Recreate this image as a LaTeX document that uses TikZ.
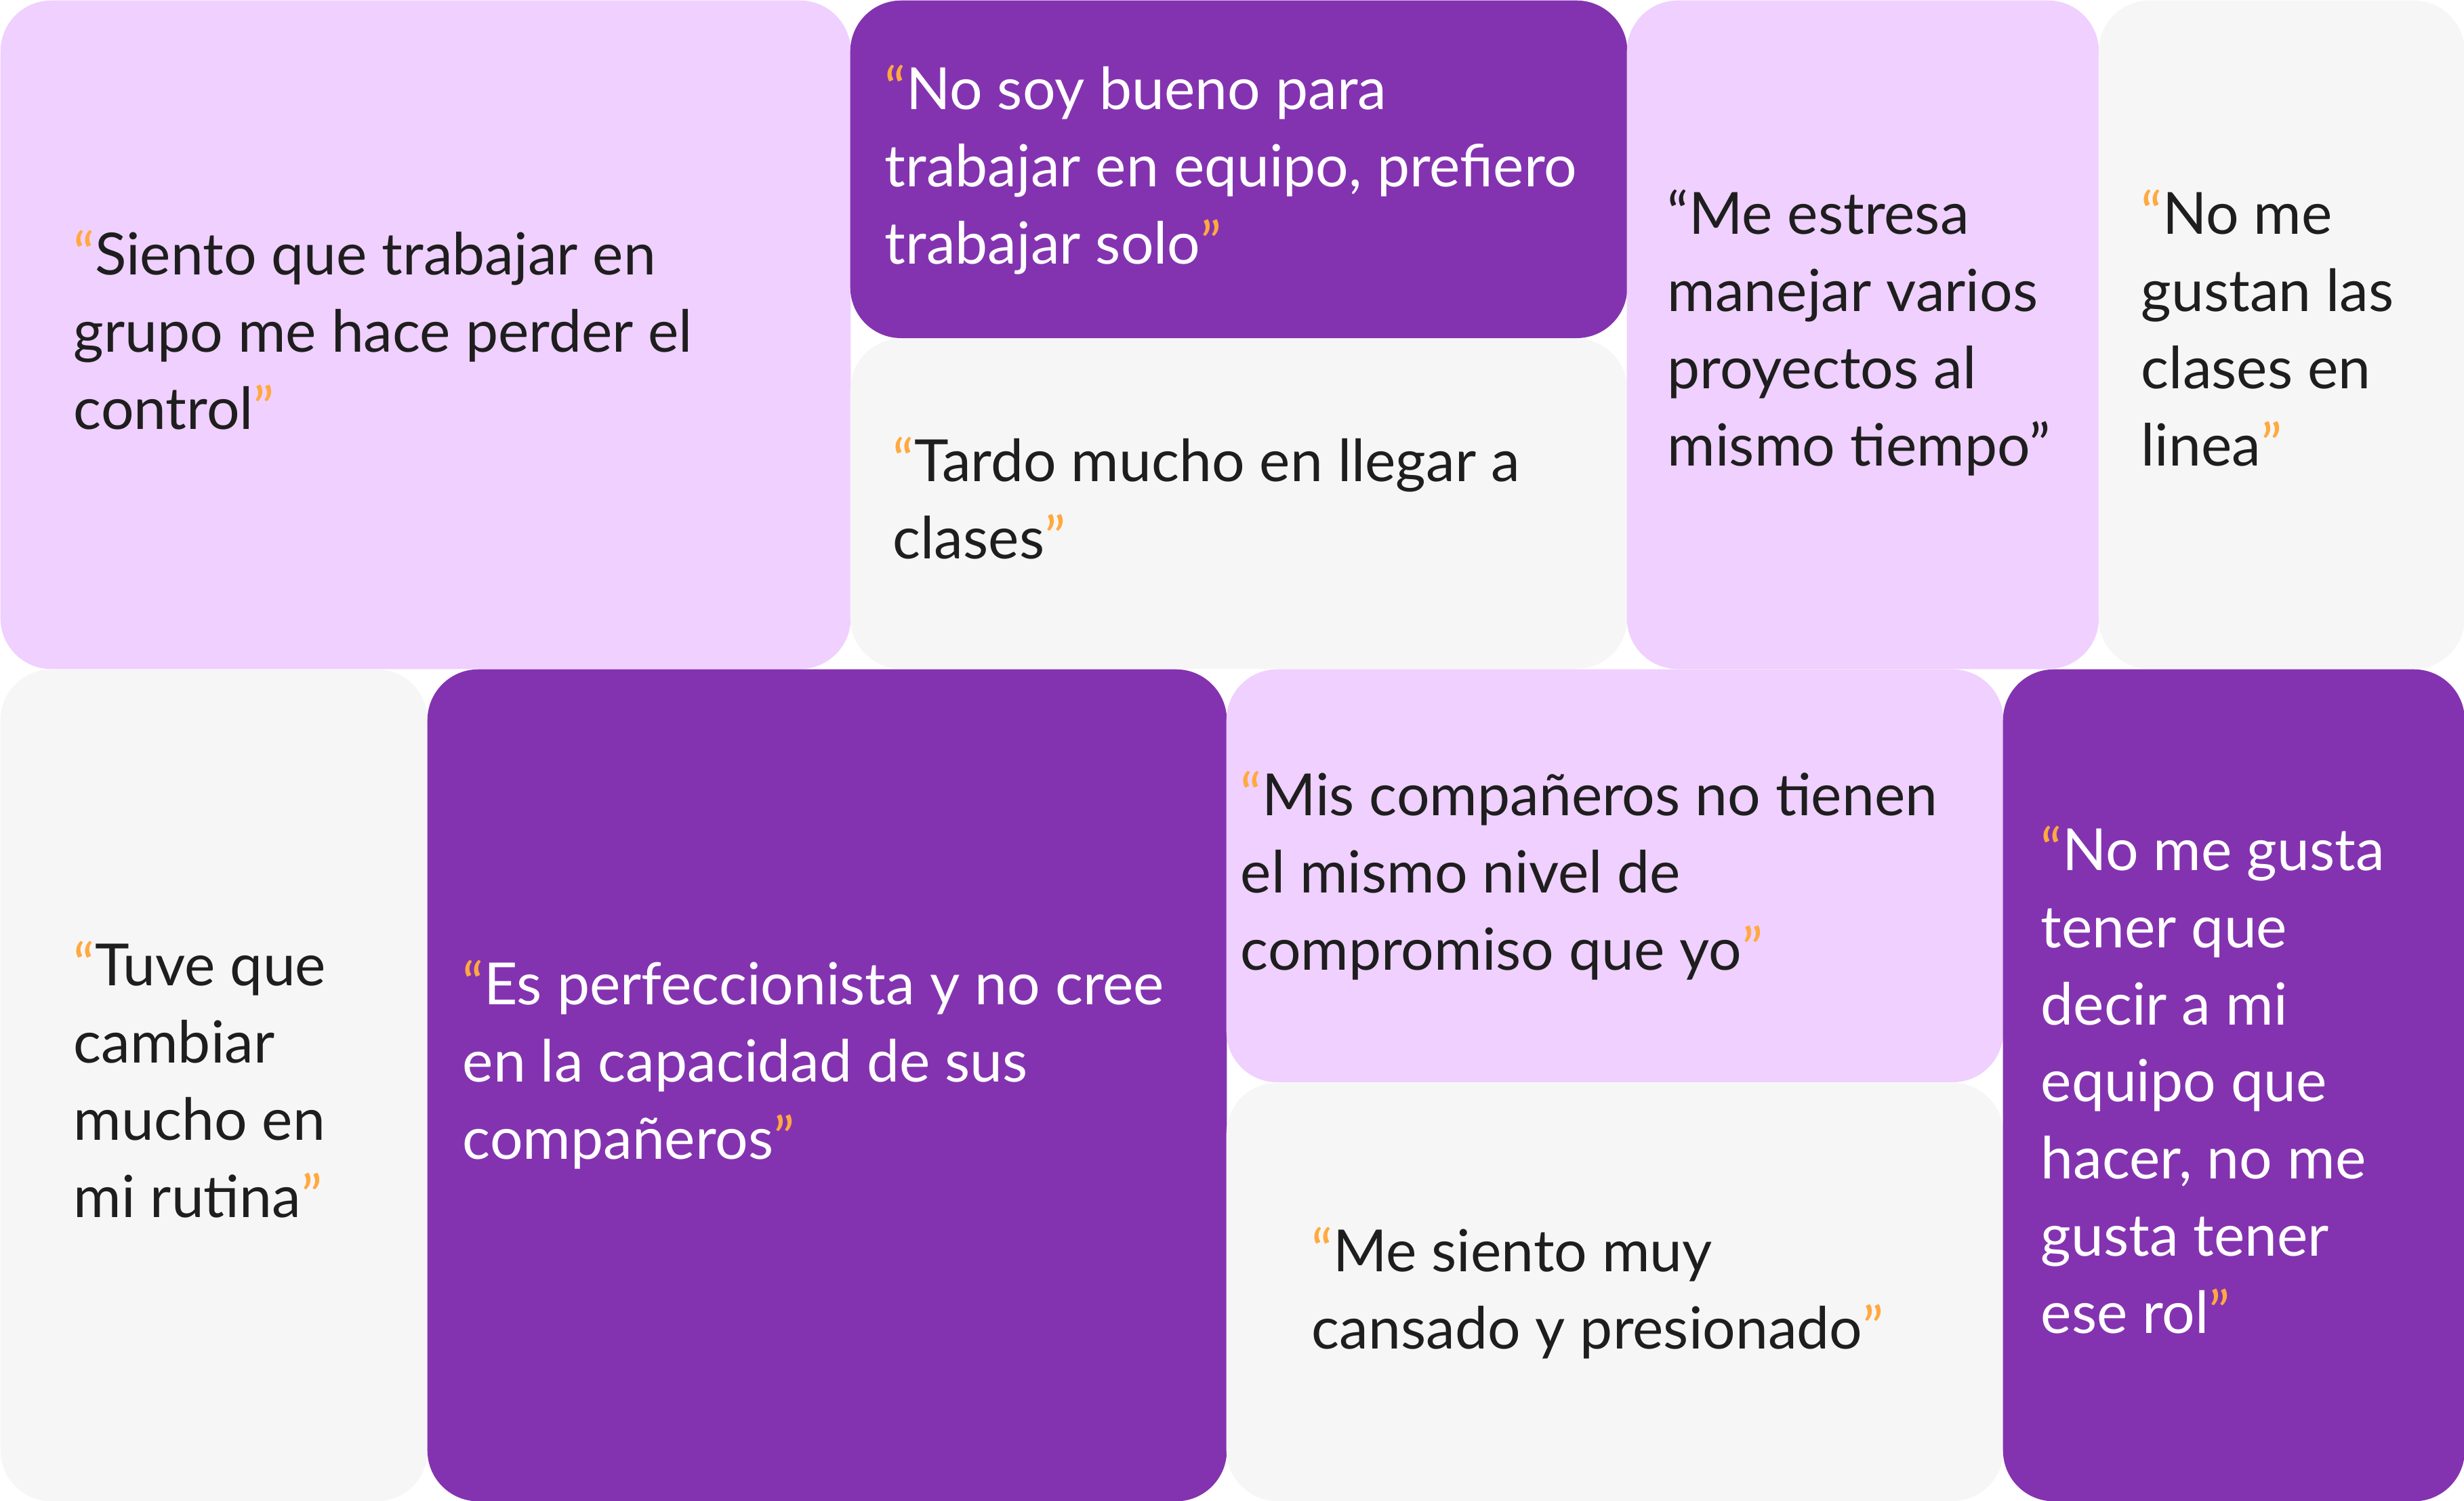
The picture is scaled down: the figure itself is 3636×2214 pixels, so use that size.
\documentclass[tikz,border=0pt]{standalone}
\usepackage{fontspec}
\setmainfont{Lato}
\usepackage{tikz}
\definecolor{plum}{HTML}{8433B0}
\definecolor{lilac}{HTML}{EFD0FE}
\definecolor{mist}{HTML}{F6F6F6}
\definecolor{quotemark}{HTML}{FFA940}
\definecolor{ink}{HTML}{1E1E1E}
\newcommand{\qopen}{\textcolor{quotemark}{“}}
\newcommand{\qclose}{\textcolor{quotemark}{”}}

\begin{document}
\begin{tikzpicture}[x=0.01cm,y=-0.01cm]
    %
    % `card' is the rounded tile behind each quote.
    % `says' is the quote text (placed by its last baseline), `saysw' the same on dark tiles.
    \tikzstyle{card} = [inner sep=0pt,anchor=north west,rounded corners=7.5mm]
    \tikzstyle{says} = [anchor=base west,inner sep=0pt,align=left,text=ink,font=\fontsize{24.4pt}{32.33pt}\selectfont]
    \tikzstyle{saysw} = [says,text=white]
    %
    \useasboundingbox (0,0) rectangle (3636,2214);
    %
    % Row 1
    \node[card,fill=lilac,minimum width=12.54cm,minimum height=9.86cm] (tileA) at (0,0) {};
    \node[card,fill=plum,minimum width=11.46cm,minimum height=4.98cm] (tileB) at (1254,0) {};
    \node[card,fill=mist,minimum width=11.46cm,minimum height=4.87cm] (tileC) at (1254,499) {};
    \node[card,fill=lilac,minimum width=6.96cm,minimum height=9.86cm] (tileD) at (2400,0) {};
    \node[card,fill=mist,minimum width=5.40cm,minimum height=9.86cm] (tileE) at (3096,0) {};
    %
    % Row 2
    \node[card,fill=mist,minimum width=6.30cm,minimum height=12.27cm] (tileF) at (0,987) {};
    \node[card,fill=plum,minimum width=11.79cm,minimum height=12.27cm] (tileG) at (630,987) {};
    \node[card,fill=lilac,minimum width=11.46cm,minimum height=6.09cm] (tileH) at (1809,987) {};
    \node[card,fill=mist,minimum width=11.46cm,minimum height=6.17cm] (tileI) at (1809,1597) {};
    \node[card,fill=plum,minimum width=6.81cm,minimum height=12.27cm] (tileJ) at (2955,987) {};
    %
    % Quotes
    \node[says] (quoteA) at (108,633) {\qopen Siento que trabajar en\\grupo me hace perder el\\control\qclose};
    \node[saysw] (quoteB) at (1305,389) {\qopen No soy bueno para\\trabajar en equipo, prefiero\\trabajar solo\qclose};
    \node[says] (quoteC) at (1317,824) {\qopen Tardo mucho en llegar a\\clases\qclose};
    \node[says] (quoteD) at (2460,687) {“Me estresa\\manejar varios\\proyectos al\\mismo tiempo”};
    \node[says] (quoteE) at (3159,687) {\qopen No me\\gustan las\\clases en\\linea\qclose};
    \node[says] (quoteF) at (108,1796) {\qopen Tuve que\\cambiar\\mucho en\\mi rutina\qclose};
    \node[saysw] (quoteG) at (682,1710) {\qopen Es perfeccionista y no cree\\en la capacidad de sus\\compañeros\qclose};
    \node[says] (quoteH) at (1830,1431) {\qopen Mis compañeros no tienen\\el mismo nivel de\\compromiso que yo\qclose};
    \node[says] (quoteI) at (1935,1990) {\qopen Me siento muy\\cansado y presionado\qclose};
    \node[saysw] (quoteJ) at (3011,1967) {\qopen No me gusta\\tener que\\decir a mi\\equipo que\\hacer, no me\\gusta tener\\ese rol\qclose};
    %
\end{tikzpicture}
\end{document}
